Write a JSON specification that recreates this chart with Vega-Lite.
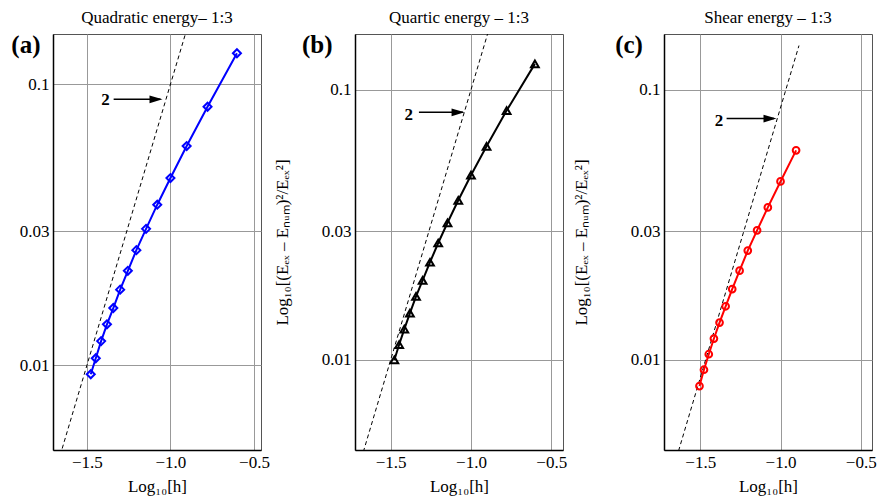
{
  "$schema": "https://vega.github.io/schema/vega-lite/v6.json",
  "background": "white",
  "padding": {"left": 10, "right": 4, "top": 8, "bottom": 2},
  "config": {
    "font": "Liberation Serif",
    "view": {"stroke": "#555555", "strokeWidth": 1},
    "axis": {
      "labelFont": "Liberation Serif", "labelFontSize": 17, "labelColor": "black", "labelPadding": 4,
      "titleFont": "Liberation Serif", "titleFontSize": 17, "titleFontWeight": "normal", "titleColor": "black",
      "grid": true, "gridColor": "#999999", "gridWidth": 1, "ticks": false,
      "domainColor": "black", "domainWidth": 1.5
    },
    "axisX": {"titlePadding": 8},
    "title": {"font": "Liberation Serif", "fontSize": 17, "fontWeight": "normal", "color": "black", "offset": 6}
  },
  "datasets": {
    "pts": [
      {"panel": "a", "x": -0.602, "y": 0.129},
      {"panel": "a", "x": -0.778, "y": 0.0832},
      {"panel": "a", "x": -0.903, "y": 0.0603},
      {"panel": "a", "x": -1.0, "y": 0.0464},
      {"panel": "a", "x": -1.079, "y": 0.0373},
      {"panel": "a", "x": -1.146, "y": 0.0306},
      {"panel": "a", "x": -1.204, "y": 0.0257},
      {"panel": "a", "x": -1.255, "y": 0.0217},
      {"panel": "a", "x": -1.301, "y": 0.0186},
      {"panel": "a", "x": -1.342, "y": 0.0160},
      {"panel": "a", "x": -1.380, "y": 0.0140},
      {"panel": "a", "x": -1.415, "y": 0.0122},
      {"panel": "a", "x": -1.447, "y": 0.0106},
      {"panel": "a", "x": -1.477, "y": 0.0093},
      {"panel": "b", "x": -0.602, "y": 0.1248},
      {"panel": "b", "x": -0.778, "y": 0.0838},
      {"panel": "b", "x": -0.903, "y": 0.0618},
      {"panel": "b", "x": -1.0, "y": 0.0483},
      {"panel": "b", "x": -1.079, "y": 0.0390},
      {"panel": "b", "x": -1.146, "y": 0.0322},
      {"panel": "b", "x": -1.204, "y": 0.0271},
      {"panel": "b", "x": -1.255, "y": 0.0230},
      {"panel": "b", "x": -1.301, "y": 0.0197},
      {"panel": "b", "x": -1.342, "y": 0.0172},
      {"panel": "b", "x": -1.380, "y": 0.0149},
      {"panel": "b", "x": -1.415, "y": 0.0130},
      {"panel": "b", "x": -1.447, "y": 0.0114},
      {"panel": "b", "x": -1.477, "y": 0.0100},
      {"panel": "c", "x": -0.903, "y": 0.0597},
      {"panel": "c", "x": -1.0, "y": 0.0458},
      {"panel": "c", "x": -1.079, "y": 0.0367},
      {"panel": "c", "x": -1.146, "y": 0.0302},
      {"panel": "c", "x": -1.204, "y": 0.0254},
      {"panel": "c", "x": -1.255, "y": 0.0214},
      {"panel": "c", "x": -1.301, "y": 0.0183},
      {"panel": "c", "x": -1.342, "y": 0.0158},
      {"panel": "c", "x": -1.380, "y": 0.01375},
      {"panel": "c", "x": -1.415, "y": 0.0120},
      {"panel": "c", "x": -1.447, "y": 0.0105},
      {"panel": "c", "x": -1.477, "y": 0.0092},
      {"panel": "c", "x": -1.505, "y": 0.0080}
    ],
    "guide": [
      {"panel": "a", "x": -1.66, "y": 0.00479},
      {"panel": "a", "x": -0.90, "y": 0.1585},
      {"panel": "b", "x": -1.67, "y": 0.00457},
      {"panel": "b", "x": -0.88, "y": 0.1738},
      {"panel": "c", "x": -1.66, "y": 0.00411},
      {"panel": "c", "x": -0.885, "y": 0.1459}
    ],
    "annot": [
      {"panel": "a", "kind": "shaft", "x": -1.34, "x2": -1.06, "y": 0.0884},
      {"panel": "a", "kind": "head", "x": -1.0475, "y": 0.0884},
      {"panel": "a", "kind": "num", "x": -1.389, "y": 0.0876, "label": "2"},
      {"panel": "a", "kind": "tag", "x": -1.865, "y": 0.138, "label": "(a)"},
      {"panel": "b", "kind": "shaft", "x": -1.324, "x2": -1.05, "y": 0.0826},
      {"panel": "b", "kind": "head", "x": -1.040, "y": 0.0826},
      {"panel": "b", "kind": "num", "x": -1.388, "y": 0.081, "label": "2"},
      {"panel": "b", "kind": "tag", "x": -1.957, "y": 0.147, "label": "(b)"},
      {"panel": "c", "kind": "shaft", "x": -1.336, "x2": -1.04, "y": 0.0783},
      {"panel": "c", "kind": "head", "x": -1.025, "y": 0.0783},
      {"panel": "c", "kind": "num", "x": -1.384, "y": 0.0769, "label": "2"},
      {"panel": "c", "kind": "tag", "x": -1.944, "y": 0.1466, "label": "(c)"}
    ]
  },
  "bounds": "flush",
  "spacing": 94,
  "resolve": {"scale": {"x": "independent", "y": "independent"}, "axis": {"x": "independent", "y": "independent"}},
  "hconcat": [
    {
      "width": 208, "height": 416,
      "title": "Quadratic energy– 1:3",
      "encoding": {
        "x": {"field": "x", "type": "quantitative", "scale": {"domain": [-1.703, -0.458], "nice": false, "zero": false}, "axis": {"values": [-1.5, -1, -0.5], "format": ".1f", "title": "Log₁₀[h]"}},
        "y": {"field": "y", "type": "quantitative", "scale": {"type": "log", "domain": [0.005, 0.151], "nice": false}, "axis": {"values": [0.01, 0.03, 0.1], "format": "~g", "title": null}}
      },
      "layer": [
        {"data": {"name": "guide"}, "transform": [{"filter": "datum.panel === 'a'"}], "mark": {"type": "line", "color": "black", "strokeWidth": 1, "strokeDash": [4, 3], "clip": true}},
        {"data": {"name": "pts"}, "transform": [{"filter": "datum.panel === 'a'"}], "mark": {"type": "line", "color": "#0000ff", "strokeWidth": 2}},
        {"data": {"name": "pts"}, "transform": [{"filter": "datum.panel === 'a'"}], "mark": {"type": "point", "shape": "diamond", "filled": false, "color": "#0000ff", "size": 64, "strokeWidth": 2, "opacity": 1}},
        {"data": {"name": "annot"}, "transform": [{"filter": "datum.panel === 'a' && datum.kind === 'shaft'"}], "mark": {"type": "rule", "color": "black", "strokeWidth": 1.5}, "encoding": {"x2": {"field": "x2"}}},
        {"data": {"name": "annot"}, "transform": [{"filter": "datum.panel === 'a' && datum.kind === 'head'"}], "mark": {"type": "point", "shape": "M-2,-0.6L0,0L-2,0.6Z", "filled": true, "color": "black", "size": 169, "opacity": 1}},
        {"data": {"name": "annot"}, "transform": [{"filter": "datum.panel === 'a' && datum.kind === 'num'"}], "mark": {"type": "text", "font": "Liberation Serif", "fontSize": 17, "fontWeight": "bold", "align": "center", "baseline": "middle", "color": "black"}, "encoding": {"text": {"field": "label"}}},
        {"data": {"name": "annot"}, "transform": [{"filter": "datum.panel === 'a' && datum.kind === 'tag'"}], "mark": {"type": "text", "font": "Liberation Serif", "fontSize": 25, "fontWeight": "bold", "align": "center", "baseline": "middle", "color": "black", "clip": false}, "encoding": {"text": {"field": "label"}}}
      ]
    },
    {
      "bounds": "flush",
      "spacing": 101,
      "resolve": {"scale": {"x": "independent", "y": "independent"}, "axis": {"x": "independent", "y": "independent"}},
      "hconcat": [
        {
          "width": 208, "height": 416,
          "title": "Quartic energy – 1:3",
          "encoding": {
            "x": {"field": "x", "type": "quantitative", "scale": {"domain": [-1.722, -0.427], "nice": false, "zero": false}, "axis": {"values": [-1.5, -1, -0.5], "format": ".1f", "title": "Log₁₀[h]"}},
            "y": {"field": "y", "type": "quantitative", "scale": {"type": "log", "domain": [0.00464, 0.161], "nice": false}, "axis": {"values": [0.01, 0.03, 0.1], "format": "~g", "title": "Log₁₀[(Eₑₓ – Eₙᵤₘ)²/Eₑₓ²]", "titlePadding": 30}}
          },
          "layer": [
            {"data": {"name": "guide"}, "transform": [{"filter": "datum.panel === 'b'"}], "mark": {"type": "line", "color": "black", "strokeWidth": 1, "strokeDash": [4, 3], "clip": true}},
            {"data": {"name": "pts"}, "transform": [{"filter": "datum.panel === 'b'"}], "mark": {"type": "line", "color": "black", "strokeWidth": 2}},
            {"data": {"name": "pts"}, "transform": [{"filter": "datum.panel === 'b'"}], "mark": {"type": "point", "shape": "triangle-up", "filled": false, "color": "black", "size": 60, "strokeWidth": 2, "opacity": 1}},
            {"data": {"name": "annot"}, "transform": [{"filter": "datum.panel === 'b' && datum.kind === 'shaft'"}], "mark": {"type": "rule", "color": "black", "strokeWidth": 1.5}, "encoding": {"x2": {"field": "x2"}}},
            {"data": {"name": "annot"}, "transform": [{"filter": "datum.panel === 'b' && datum.kind === 'head'"}], "mark": {"type": "point", "shape": "M-2,-0.6L0,0L-2,0.6Z", "filled": true, "color": "black", "size": 169, "opacity": 1}},
            {"data": {"name": "annot"}, "transform": [{"filter": "datum.panel === 'b' && datum.kind === 'num'"}], "mark": {"type": "text", "font": "Liberation Serif", "fontSize": 17, "fontWeight": "bold", "align": "center", "baseline": "middle", "color": "black"}, "encoding": {"text": {"field": "label"}}},
            {"data": {"name": "annot"}, "transform": [{"filter": "datum.panel === 'b' && datum.kind === 'tag'"}], "mark": {"type": "text", "font": "Liberation Serif", "fontSize": 25, "fontWeight": "bold", "align": "center", "baseline": "middle", "color": "black", "clip": false}, "encoding": {"text": {"field": "label"}}}
          ]
        },
        {
          "width": 208, "height": 416,
          "title": "Shear energy – 1:3",
          "encoding": {
            "x": {"field": "x", "type": "quantitative", "scale": {"domain": [-1.726, -0.43], "nice": false, "zero": false}, "axis": {"values": [-1.5, -1, -0.5], "format": ".1f", "title": "Log₁₀[h]"}},
            "y": {"field": "y", "type": "quantitative", "scale": {"type": "log", "domain": [0.00464, 0.161], "nice": false}, "axis": {"values": [0.01, 0.03, 0.1], "format": "~g", "title": "Log₁₀[(Eₑₓ – Eₙᵤₘ)²/Eₑₓ²]", "titlePadding": 40}}
          },
          "layer": [
            {"data": {"name": "guide"}, "transform": [{"filter": "datum.panel === 'c'"}], "mark": {"type": "line", "color": "black", "strokeWidth": 1, "strokeDash": [4, 3], "clip": true}},
            {"data": {"name": "pts"}, "transform": [{"filter": "datum.panel === 'c'"}], "mark": {"type": "line", "color": "#ff0000", "strokeWidth": 2}},
            {"data": {"name": "pts"}, "transform": [{"filter": "datum.panel === 'c'"}], "mark": {"type": "point", "shape": "circle", "filled": false, "color": "#ff0000", "size": 45, "strokeWidth": 2, "opacity": 1}},
            {"data": {"name": "annot"}, "transform": [{"filter": "datum.panel === 'c' && datum.kind === 'shaft'"}], "mark": {"type": "rule", "color": "black", "strokeWidth": 1.5}, "encoding": {"x2": {"field": "x2"}}},
            {"data": {"name": "annot"}, "transform": [{"filter": "datum.panel === 'c' && datum.kind === 'head'"}], "mark": {"type": "point", "shape": "M-2,-0.6L0,0L-2,0.6Z", "filled": true, "color": "black", "size": 169, "opacity": 1}},
            {"data": {"name": "annot"}, "transform": [{"filter": "datum.panel === 'c' && datum.kind === 'num'"}], "mark": {"type": "text", "font": "Liberation Serif", "fontSize": 17, "fontWeight": "bold", "align": "center", "baseline": "middle", "color": "black"}, "encoding": {"text": {"field": "label"}}},
            {"data": {"name": "annot"}, "transform": [{"filter": "datum.panel === 'c' && datum.kind === 'tag'"}], "mark": {"type": "text", "font": "Liberation Serif", "fontSize": 25, "fontWeight": "bold", "align": "center", "baseline": "middle", "color": "black", "clip": false}, "encoding": {"text": {"field": "label"}}}
          ]
        }
      ]
    }
  ]
}
